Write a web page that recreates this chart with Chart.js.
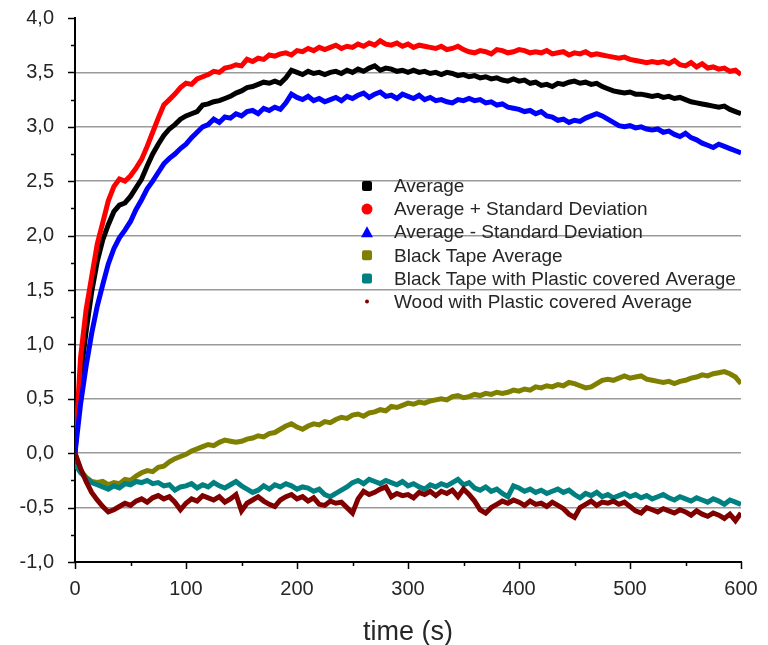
<!DOCTYPE html>
<html>
<head>
<meta charset="utf-8">
<script src="https://cdn.jsdelivr.net/npm/chart.js@4.4.1/dist/chart.umd.min.js"></script>
<style>
  html, body { margin: 0; padding: 0; background: #fff; }
</style>
</head>
<body>
<canvas id="chart" width="768" height="645"></canvas>
<script>
// time axis, one reading every 5 s
const times = [
  0, 5, 10, 15, 20, 25, 30, 35, 40, 45, 50, 55, 60, 65, 70, 75, 80, 85, 90, 95,
  100, 105, 110, 115, 120, 125, 130, 135, 140, 145, 150, 155, 160, 165, 170, 175, 180, 185, 190, 195,
  200, 205, 210, 215, 220, 225, 230, 235, 240, 245, 250, 255, 260, 265, 270, 275, 280, 285, 290, 295,
  300, 305, 310, 315, 320, 325, 330, 335, 340, 345, 350, 355, 360, 365, 370, 375, 380, 385, 390, 395,
  400, 405, 410, 415, 420, 425, 430, 435, 440, 445, 450, 455, 460, 465, 470, 475, 480, 485, 490, 495,
  500, 505, 510, 515, 520, 525, 530, 535, 540, 545, 550, 555, 560, 565, 570, 575, 580, 585, 590, 595,
  600
];

const average = [
  0.00, 0.70, 1.12, 1.48, 1.76, 1.96, 2.10, 2.22, 2.28, 2.30, 2.36, 2.44, 2.52, 2.64, 2.75, 2.84, 2.92, 2.98, 3.02, 3.07,
  3.10, 3.12, 3.14, 3.20, 3.21, 3.23, 3.24, 3.26, 3.28, 3.31, 3.33, 3.36, 3.37, 3.39, 3.41, 3.40, 3.42, 3.40, 3.45, 3.52,
  3.50, 3.48, 3.51, 3.49, 3.50, 3.48, 3.50, 3.51, 3.49, 3.52, 3.50, 3.53, 3.51, 3.54, 3.56, 3.52, 3.54, 3.53, 3.51, 3.52,
  3.50, 3.52, 3.50, 3.51, 3.49, 3.50, 3.48, 3.50, 3.49, 3.47, 3.48, 3.46, 3.47, 3.45, 3.46, 3.44, 3.45, 3.43, 3.42, 3.44,
  3.42, 3.43, 3.40, 3.41, 3.38, 3.39, 3.37, 3.40, 3.39, 3.41, 3.42, 3.40, 3.41, 3.39, 3.40, 3.37, 3.35, 3.33, 3.32, 3.31,
  3.32, 3.30, 3.30, 3.29, 3.28, 3.29, 3.27, 3.28, 3.26, 3.27, 3.25, 3.23, 3.22, 3.21, 3.20, 3.19, 3.18, 3.19, 3.16, 3.14,
  3.12
];

const avgPlusSd = [
  0.00, 0.88, 1.32, 1.62, 1.92, 2.12, 2.32, 2.45, 2.52, 2.50, 2.55, 2.62, 2.70, 2.82, 2.95, 3.08, 3.20, 3.25, 3.30, 3.36,
  3.40, 3.39, 3.44, 3.46, 3.48, 3.51, 3.50, 3.54, 3.55, 3.57, 3.56, 3.62, 3.60, 3.63, 3.62, 3.66, 3.65, 3.67, 3.68, 3.66,
  3.70, 3.69, 3.72, 3.70, 3.73, 3.71, 3.73, 3.75, 3.72, 3.74, 3.73, 3.76, 3.74, 3.77, 3.75, 3.79, 3.76, 3.75, 3.77, 3.74,
  3.76, 3.73, 3.75, 3.74, 3.73, 3.72, 3.74, 3.71, 3.72, 3.74, 3.71, 3.69, 3.68, 3.70, 3.69, 3.67, 3.71, 3.70, 3.68, 3.69,
  3.71, 3.70, 3.68, 3.69, 3.68, 3.70, 3.67, 3.68, 3.69, 3.66, 3.68, 3.67, 3.69, 3.66, 3.67, 3.66, 3.65, 3.64, 3.63, 3.64,
  3.62, 3.61, 3.60, 3.59, 3.60, 3.59, 3.60, 3.58, 3.61, 3.57, 3.56, 3.59, 3.55, 3.58, 3.54, 3.55, 3.53, 3.54, 3.51, 3.52,
  3.48
];

const avgMinusSd = [
  0.00, 0.45, 0.80, 1.10, 1.35, 1.55, 1.74, 1.88, 1.98, 2.05, 2.13, 2.24, 2.33, 2.43, 2.50, 2.58, 2.66, 2.71, 2.75, 2.80,
  2.84, 2.90, 2.95, 3.00, 3.02, 3.07, 3.04, 3.09, 3.08, 3.12, 3.10, 3.14, 3.15, 3.12, 3.17, 3.15, 3.18, 3.16, 3.22, 3.30,
  3.27, 3.25, 3.28, 3.24, 3.26, 3.23, 3.25, 3.27, 3.24, 3.28, 3.26, 3.29, 3.31, 3.27, 3.30, 3.32, 3.28, 3.29, 3.26, 3.30,
  3.28, 3.26, 3.29, 3.25, 3.27, 3.24, 3.25, 3.23, 3.22, 3.25, 3.24, 3.26, 3.24, 3.25, 3.22, 3.23, 3.20, 3.21, 3.18, 3.17,
  3.16, 3.14, 3.15, 3.12, 3.14, 3.10, 3.09, 3.06, 3.07, 3.04, 3.06, 3.05, 3.08, 3.10, 3.12, 3.10, 3.07, 3.04, 3.01, 3.00,
  3.01, 2.99, 3.00, 2.98, 2.97, 2.98, 2.95, 2.96, 2.93, 2.91, 2.94, 2.90, 2.88, 2.85, 2.83, 2.81, 2.84, 2.82, 2.80, 2.78,
  2.76
];

const blackTape = [
  0.00, -0.16, -0.22, -0.26, -0.27, -0.26, -0.29, -0.27, -0.28, -0.24, -0.25, -0.21, -0.18, -0.16, -0.17, -0.13, -0.12, -0.08, -0.05, -0.03,
  -0.01, 0.02, 0.04, 0.06, 0.08, 0.07, 0.10, 0.12, 0.11, 0.10, 0.11, 0.13, 0.14, 0.16, 0.15, 0.18, 0.19, 0.22, 0.25, 0.27,
  0.24, 0.22, 0.25, 0.27, 0.26, 0.29, 0.28, 0.31, 0.33, 0.32, 0.35, 0.36, 0.34, 0.37, 0.38, 0.40, 0.39, 0.43, 0.42, 0.44,
  0.46, 0.45, 0.47, 0.46, 0.48, 0.49, 0.50, 0.49, 0.52, 0.53, 0.51, 0.52, 0.54, 0.53, 0.55, 0.54, 0.56, 0.55, 0.56, 0.58,
  0.57, 0.59, 0.58, 0.61, 0.60, 0.62, 0.61, 0.63, 0.62, 0.65, 0.64, 0.62, 0.60, 0.61, 0.64, 0.67, 0.68, 0.67, 0.69, 0.71,
  0.69, 0.70, 0.71, 0.68, 0.67, 0.66, 0.65, 0.66, 0.64, 0.66, 0.67, 0.69, 0.70, 0.72, 0.71, 0.73, 0.74, 0.75, 0.73, 0.70,
  0.64
];

const tapePlastic = [
  -0.10, -0.18, -0.23, -0.27, -0.29, -0.31, -0.33, -0.30, -0.32, -0.28, -0.29, -0.26, -0.27, -0.25, -0.28, -0.27, -0.30, -0.29, -0.34, -0.31,
  -0.30, -0.28, -0.32, -0.29, -0.31, -0.27, -0.30, -0.32, -0.29, -0.26, -0.30, -0.33, -0.36, -0.34, -0.30, -0.33, -0.29, -0.31, -0.28, -0.30,
  -0.33, -0.31, -0.32, -0.35, -0.33, -0.38, -0.40, -0.37, -0.34, -0.31, -0.27, -0.25, -0.28, -0.24, -0.26, -0.28, -0.25, -0.27, -0.29, -0.26,
  -0.30, -0.28, -0.31, -0.33, -0.29, -0.31, -0.28, -0.30, -0.27, -0.24, -0.29, -0.27, -0.32, -0.34, -0.31, -0.35, -0.33, -0.37, -0.40, -0.30,
  -0.32, -0.35, -0.33, -0.36, -0.34, -0.37, -0.35, -0.33, -0.36, -0.34, -0.38, -0.41, -0.37, -0.39, -0.36, -0.40, -0.38, -0.41, -0.39, -0.37,
  -0.40, -0.38, -0.41, -0.39, -0.42, -0.40, -0.38, -0.41, -0.43, -0.40, -0.42, -0.44, -0.41, -0.43, -0.45, -0.42, -0.44, -0.47, -0.43, -0.45,
  -0.47
];

const woodPlastic = [
  0.00, -0.14, -0.26, -0.36, -0.43, -0.49, -0.54, -0.52, -0.49, -0.46, -0.48, -0.44, -0.42, -0.45, -0.41, -0.39, -0.42, -0.40, -0.45, -0.52,
  -0.46, -0.42, -0.44, -0.39, -0.41, -0.43, -0.40, -0.45, -0.42, -0.38, -0.53, -0.46, -0.43, -0.40, -0.44, -0.47, -0.49, -0.43, -0.40, -0.38,
  -0.42, -0.40, -0.44, -0.41, -0.47, -0.48, -0.44, -0.46, -0.45, -0.50, -0.55, -0.42, -0.35, -0.38, -0.36, -0.33, -0.31, -0.40, -0.37, -0.39,
  -0.38, -0.41, -0.36, -0.38, -0.35, -0.39, -0.35, -0.37, -0.34, -0.40, -0.33, -0.38, -0.44, -0.52, -0.55, -0.50, -0.47, -0.44, -0.46, -0.43,
  -0.45, -0.48, -0.44, -0.47, -0.46, -0.49, -0.45, -0.48, -0.51, -0.56, -0.59, -0.50, -0.47, -0.44, -0.48, -0.45, -0.46, -0.44, -0.47, -0.45,
  -0.49, -0.53, -0.55, -0.50, -0.52, -0.54, -0.51, -0.53, -0.55, -0.52, -0.54, -0.57, -0.53, -0.56, -0.58, -0.55, -0.57, -0.60, -0.56, -0.62,
  -0.55
];

const seriesNames = [
  'Average',
  'Average + Standard Deviation',
  'Average - Standard Deviation',
  'Black Tape Average',
  'Black Tape with Plastic covered Average',
  'Wood with Plastic covered Average'
];
const seriesValues = [average, avgPlusSd, avgMinusSd, blackTape, tapePlastic, woodPlastic];
const seriesColors = ['#000000', '#ff0000', '#0000ff', '#808000', '#008080', '#800000'];
const legendMarks = ['square', 'circle', 'triangle', 'square', 'square', 'dot'];

const FONT = "'Liberation Sans', Arial, sans-serif";
const TEXT = '#262626';

const isMajor = (v, step) => Math.abs(v / step - Math.round(v / step)) < 1e-6;
const comma = v => v.toFixed(1).replace('.', ',');

const datasets = seriesValues.map((vals, i) => ({
  label: seriesNames[i],
  data: times.map((t, j) => ({ x: t, y: vals[j] })),
  borderColor: seriesColors[i],
  backgroundColor: seriesColors[i],
  borderWidth: 5,
  borderJoinStyle: 'miter',
  pointRadius: 0,
  tension: 0,
  order: seriesValues.length - 1 - i // later series on top, like the original
}));

// short minor ticks, longer major ticks, drawn outside the axes
const axisTicks = {
  id: 'axisTicks',
  afterDraw(chart) {
    const { ctx, scales } = chart;
    const xs = scales.x, ys = scales.y;
    ctx.save();
    ctx.strokeStyle = '#000';
    ctx.lineWidth = 1.5;
    ys.ticks.forEach(t => {
      const py = Math.round(ys.getPixelForValue(t.value)) + 0.5;
      const len = isMajor(t.value, 0.5) ? 7 : 4;
      ctx.beginPath();
      ctx.moveTo(xs.left - len, py);
      ctx.lineTo(xs.left, py);
      ctx.stroke();
    });
    xs.ticks.forEach(t => {
      const px = Math.round(xs.getPixelForValue(t.value)) + 0.5;
      const len = isMajor(t.value, 100) ? 7 : 4;
      ctx.beginPath();
      ctx.moveTo(px, ys.bottom);
      ctx.lineTo(px, ys.bottom + len);
      ctx.stroke();
    });
    ctx.restore();
  }
};

// legend sitting inside the plot, as in the original
const insideLegend = {
  id: 'insideLegend',
  afterDatasetsDraw(chart) {
    const { ctx, chartArea } = chart;
    const sx = chartArea.left + 292;
    const tx = chartArea.left + 319;
    const y0 = chartArea.top + 168;
    const rowH = 23.1;
    ctx.save();
    ctx.font = '19px ' + FONT;
    ctx.textBaseline = 'middle';
    chart.data.datasets.forEach((ds, i) => {
      const cy = y0 + i * rowH;
      ctx.fillStyle = ds.borderColor;
      const m = legendMarks[i];
      ctx.beginPath();
      if (m === 'square') {
        ctx.roundRect(sx - 5, cy - 5, 10, 10, 2);
      } else if (m === 'circle') {
        ctx.arc(sx, cy, 5.5, 0, Math.PI * 2);
      } else if (m === 'triangle') {
        ctx.moveTo(sx, cy - 6);
        ctx.lineTo(sx + 6, cy + 5);
        ctx.lineTo(sx - 6, cy + 5);
        ctx.closePath();
      } else {
        ctx.arc(sx, cy, 2, 0, Math.PI * 2);
      }
      ctx.fill();
      ctx.fillStyle = TEXT;
      ctx.fillText(ds.label, tx, cy + 1);
    });
    ctx.restore();
  }
};

new Chart(document.getElementById('chart'), {
  type: 'line',
  data: { datasets },
  options: {
    responsive: false,
    animation: false,
    layout: { padding: { top: 18, right: 27, left: 0, bottom: 0 } },
    plugins: {
      legend: { display: false },
      tooltip: { enabled: false }
    },
    scales: {
      x: {
        type: 'linear',
        min: 0,
        max: 600,
        afterFit: s => { s.height = 83; s.paddingLeft = 0; s.paddingRight = 0; },
        border: { display: true, color: '#000', width: 2 },
        grid: { drawOnChartArea: false, drawTicks: false },
        ticks: {
          stepSize: 50,
          autoSkip: false,
          maxRotation: 0,
          padding: 15,
          color: TEXT,
          font: { family: FONT, size: 20 },
          callback: v => isMajor(v, 100) ? String(v) : ''
        },
        title: {
          display: true,
          text: 'time (s)',
          color: TEXT,
          font: { family: FONT, size: 27 },
          padding: { top: 0, bottom: -4 }
        }
      },
      y: {
        min: -1,
        max: 4,
        afterFit: s => { s.width = 75; s.paddingTop = 0; s.paddingBottom = 0; },
        border: { display: true, color: '#000', width: 2 },
        grid: {
          drawTicks: false,
          lineWidth: 1.5,
          color: c => {
            const v = c.tick ? c.tick.value : 0;
            return isMajor(v, 0.5) && v > -0.9 && v < 3.9 ? '#9a9a9a' : 'rgba(0,0,0,0)';
          }
        },
        ticks: {
          stepSize: 0.25,
          autoSkip: false,
          padding: 21,
          color: TEXT,
          font: { family: FONT, size: 20 },
          callback: v => isMajor(v, 0.5) ? comma(v) : ''
        }
      }
    }
  },
  plugins: [axisTicks, insideLegend]
});
</script>
</body>
</html>
